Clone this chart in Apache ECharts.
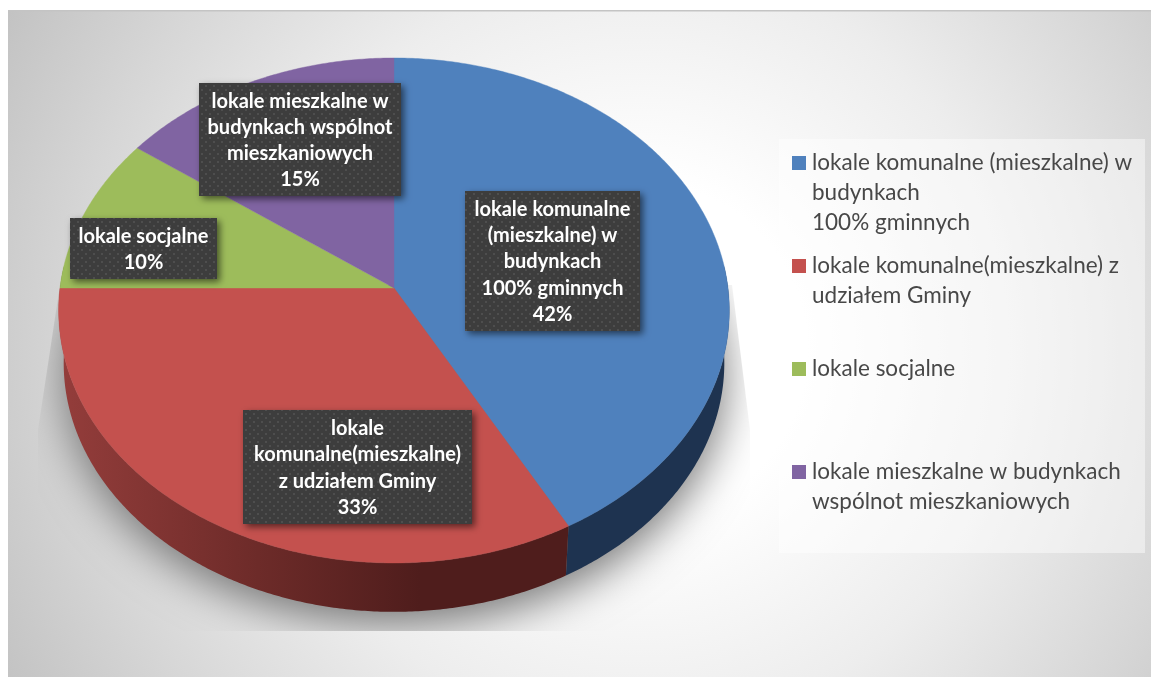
<!DOCTYPE html>
<html lang="pl">
<head>
<meta charset="utf-8">
<title>Struktura lokali</title>
<style>
html,body{margin:0;padding:0;background:#fff}
#chart{width:1151px;height:677px}
</style>
<script src="https://cdn.jsdelivr.net/npm/echarts@6/dist/echarts.min.js"></script>
</head>
<body>
<div id="chart"></div>
<script>
// Udział poszczególnych grup lokali (%)
const values = [42, 33, 10, 15];
const legendNames = [
  ['lokale komunalne (mieszkalne) w', 'budynkach', '100% gminnych'],
  ['lokale komunalne(mieszkalne) z', 'udziałem Gminy'],
  ['lokale socjalne'],
  ['lokale mieszkalne w budynkach', 'wspólnot mieszkaniowych']
];
const labelLines = [
  ['lokale komunalne', '(mieszkalne) w', 'budynkach', '100% gminnych'],
  ['lokale', 'komunalne(mieszkalne)', 'z udziałem Gminy'],
  ['lokale socjalne'],
  ['lokale mieszkalne w', 'budynkach wspólnot', 'mieszkaniowych']
];
const topColors = ['#4f81bd', '#c4514e', '#9dbc5b', '#8064a2'];
const sideColors = ['#1e3350', null, '#5f7536', '#4d3c62'];

// Ramki etykiet danych: x, y, szerokość, wysokość
const labelBoxes = [
  [465, 191, 175, 140],
  [243, 410, 229, 114],
  [70, 218, 147, 61],
  [199, 83, 202, 113]
];

// Rzut perspektywiczny okręgu tortu
const apex = { x: 394, y: 288 };
const radiusX = 334, radiusY = 250.5, perspective = 0.089;
const depth = 53, lowerScale = 0.985;

function project(deg, offsetY, scale) {
  const a = deg * Math.PI / 180;
  const c = Math.sin(a), t = -Math.cos(a);
  const s = scale / (1 - perspective * t);
  return [apex.x + radiusX * c * s, apex.y + offsetY + radiusY * t * s];
}
function arc(from, to, offsetY, scale) {
  const pts = [];
  const n = Math.max(2, Math.ceil(Math.abs(to - from) * 2));
  for (let i = 0; i <= n; i++) pts.push(project(from + (to - from) * i / n, offsetY, scale));
  return pts;
}
function sliceAngles(i) {
  const total = values.reduce((a, b) => a + b, 0);
  const before = values.slice(0, i).reduce((a, b) => a + b, 0);
  return [before / total * 360, (before + values[i]) / total * 360];
}

// Kropkowana faktura ramek etykiet
const dots = document.createElement('canvas');
dots.width = dots.height = 8;
(function () {
  const g = dots.getContext('2d');
  g.fillStyle = '#3d3d3d';
  g.fillRect(0, 0, 8, 8);
  g.fillStyle = '#4e4e4e';
  g.fillRect(1, 1, 2, 2);
  g.fillRect(5, 5, 2, 2);
})();

const rowIndex = values.map((v, i) => [i, v]);
const noAxes = { coordinateSystem: 'none', silent: true, animation: false, data: rowIndex };

const option = {
  animation: false,
  backgroundColor: '#ffffff',
  graphic: {
    elements: [
      {
        type: 'rect', silent: true, z: 0,
        shape: { x: 8, y: 11, width: 1143, height: 666 },
        style: {
          fill: {
            type: 'radial', x: 640, y: 350, r: 760, global: true,
            colorStops: [
              { offset: 0, color: '#ffffff' },
              { offset: 0.22, color: '#ffffff' },
              { offset: 0.5, color: '#ededed' },
              { offset: 0.75, color: '#d6d6d6' },
              { offset: 1, color: '#bdbdbd' }
            ]
          }
        }
      },
      {
        type: 'rect', silent: true, z: 0,
        shape: { x: 8, y: 10, width: 1143, height: 1.5 },
        style: { fill: '#c4c4c4' }
      }
    ]
  },
  series: [
    // Cień pod tortem: sam kształt kryje się pod wierzchem, widać tylko rozmyte odsunięcie,
    // przycięte do obszaru wykresu
    Object.assign({}, noAxes, {
      type: 'custom', z: 1, data: [[0, 100]],
      renderItem() {
        return {
          type: 'polygon',
          shape: { points: arc(0, 360, 0, 0.985) },
          style: {
            fill: '#777777', shadowColor: '#777777', shadowBlur: 44, shadowOffsetY: 66
          },
          clipPath: {
            type: 'polygon',
            shape: { points: [[60, 285], [38, 430], [38, 631], [750, 631], [750, 430], [732, 285]] }
          }
        };
      }
    }),
    // Ściany boczne
    Object.assign({}, noAxes, {
      type: 'custom', z: 2,
      renderItem(params) {
        const i = params.dataIndex;
        const [a0, a1] = sliceAngles(i);
        const from = Math.max(a0, 85), to = Math.min(a1, 275);
        if (to <= from) return null;
        const pts = arc(from, to, 0, 1).concat(arc(to, from, depth, lowerScale));
        const fill = sideColors[i] || {
          type: 'linear', x: 60, y: 0, x2: 420, y2: 0, global: true,
          colorStops: [
            { offset: 0, color: '#943d3b' },
            { offset: 0.55, color: '#6d2b29' },
            { offset: 1, color: '#4f1d1c' }
          ]
        };
        return { type: 'polygon', shape: { points: pts }, style: { fill: fill } };
      }
    }),
    // Wierzch tortu
    Object.assign({}, noAxes, {
      type: 'custom', z: 3,
      renderItem(params) {
        const i = params.dataIndex;
        const [a0, a1] = sliceAngles(i);
        const pts = [[apex.x, apex.y]].concat(arc(a0, a1, 0, 1));
        return {
          type: 'polygon', shape: { points: pts },
          style: { fill: topColors[i], stroke: topColors[i], lineWidth: 0.4 }
        };
      }
    }),
    // Etykiety danych
    Object.assign({}, noAxes, {
      type: 'custom', z: 4,
      renderItem(params, api) {
        const i = params.dataIndex;
        const [x, y, w, h] = labelBoxes[i];
        const lines = labelLines[i].concat([api.value(1) + '%']);
        return {
          type: 'group',
          children: [
            {
              type: 'rect', shape: { x, y, width: w, height: h },
              style: {
                fill: { image: dots, repeat: 'repeat' },
                shadowColor: 'rgba(0,0,0,0.55)', shadowBlur: 7, shadowOffsetX: 3, shadowOffsetY: 3
              }
            },
            {
              type: 'text',
              style: {
                x: x + w / 2, y: y + h / 2 + 1, text: lines.join('\n'),
                align: 'center', verticalAlign: 'middle',
                font: 'bold 20px Lato', lineHeight: 26.2, fill: '#ffffff'
              }
            }
          ]
        };
      }
    }),
    // Panel legendy
    Object.assign({}, noAxes, {
      type: 'custom', z: 4, data: [[0, 100]],
      renderItem() {
        return {
          type: 'rect', shape: { x: 779, y: 139, width: 366, height: 414 },
          style: { fill: 'rgba(255,255,255,0.45)' }
        };
      }
    }),
    // Pozycje legendy
    Object.assign({}, noAxes, {
      type: 'custom', z: 5,
      renderItem(params) {
        const i = params.dataIndex;
        const top = 156 + i * 103;
        return {
          type: 'group',
          children: [
            { type: 'rect', shape: { x: 792, y: top, width: 14, height: 14 }, style: { fill: topColors[i] } },
            {
              type: 'text',
              style: {
                x: 812, y: top - 8, text: legendNames[i].join('\n'),
                align: 'left', verticalAlign: 'top',
                font: '22.5px Lato', lineHeight: 30, fill: '#484848'
              }
            }
          ]
        };
      }
    })
  ]
};

echarts.init(document.getElementById('chart'), null, { renderer: 'canvas' }).setOption(option);
</script>
</body>
</html>
